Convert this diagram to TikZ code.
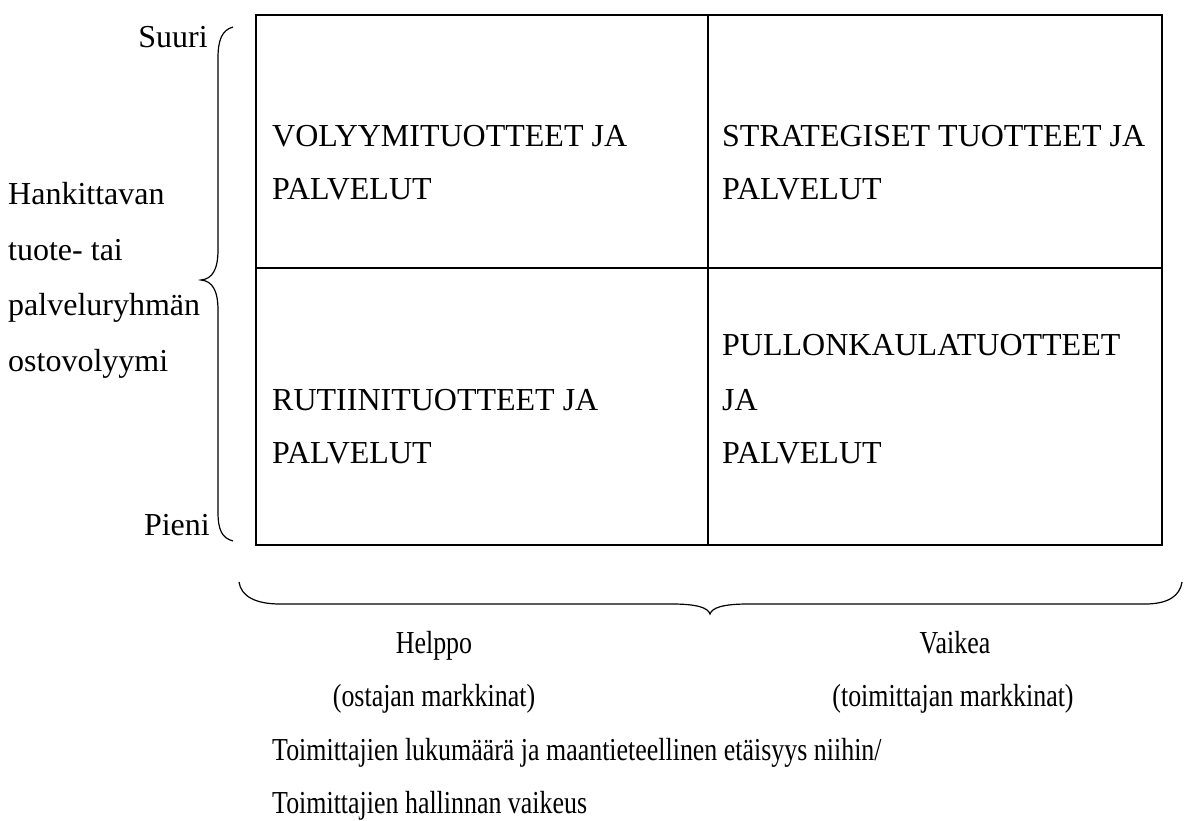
\documentclass[tikz,border=0pt]{standalone}
\usepackage{fontspec}
\setmainfont{Liberation Serif}
\newfontfamily\condfont[FakeStretch=0.81]{Liberation Serif}
\begin{document}
\begin{tikzpicture}[x=1pt,y=-1pt,
  lbl/.style={inner sep=0pt,font=\fontsize{32}{38}\selectfont},
  blbl/.style={inner sep=0pt,font=\condfont\fontsize{32}{38}\selectfont},
  line/.style={line width=1.6pt},
  brace/.style={line width=1.2pt}]
\useasboundingbox (0,0) rectangle (1184,821);
% grid
\draw[line] (256,15) rectangle (1162,545);
\coordinate (mt) at (708,15); \coordinate (mb) at (708,545);
\coordinate (ml) at (256,268); \coordinate (mr) at (1162,268);
\draw[line] (mt) -- (mb);
\draw[line] (ml) -- (mr);
% left brace
\draw[brace] (233,27) .. controls (222,30) and (218,40) .. (218,58)
  -- (218,250) .. controls (218,270) and (212,279) .. (201,280)
  .. controls (212,281) and (218,290) .. (218,310)
  -- (218,512) .. controls (218,530) and (222,538) .. (233,541);
% bottom brace
\draw[brace] (239,582) .. controls (241,596) and (255,604) .. (280,604)
  -- (672,604) .. controls (698,604) and (708,608) .. (710,614)
  .. controls (712,608) and (722,604) .. (748,604)
  -- (1145,604) .. controls (1168,604) and (1180,596) .. (1182,582);
% left labels
\node[lbl,anchor=base east] (suuri) at (208,48) {Suuri};
\node[lbl,anchor=base east] (pieni) at (210,535) {Pieni};
\node[lbl,anchor=base west] (h1) at (8,205) {Hankittavan};
\node[lbl,anchor=base west] (h2) at (8,261) {tuote- tai};
\node[lbl,anchor=base west] (h3) at (8,316) {palveluryhmän};
\node[lbl,anchor=base west] (h4) at (8,371) {ostovolyymi};
% cells
\node[lbl,anchor=base west] (v1) at (272,147) {VOLYYMITUOTTEET JA};
\node[lbl,anchor=base west] (v2) at (272,200) {PALVELUT};
\node[lbl,anchor=base west] (s1) at (722,147) {STRATEGISET TUOTTEET JA};
\node[lbl,anchor=base west] (s2) at (722,200) {PALVELUT};
\node[lbl,anchor=base west] (r1) at (272,410) {RUTIINITUOTTEET JA};
\node[lbl,anchor=base west] (r2) at (272,463) {PALVELUT};
\node[lbl,anchor=base west] (p1) at (722,355) {PULLONKAULATUOTTEET};
\node[lbl,anchor=base west] (p2) at (722,410) {JA};
\node[lbl,anchor=base west] (p3) at (722,463) {PALVELUT};
% bottom labels
\node[blbl,anchor=base] (helppo) at (434,653) {Helppo};
\node[blbl,anchor=base] (vaikea) at (955,653) {Vaikea};
\node[blbl,anchor=base] (om) at (434,706) {(ostajan markkinat)};
\node[blbl,anchor=base] (tm) at (953,706) {(toimittajan markkinat)};
\node[blbl,anchor=base west] (t1) at (272,760) {Toimittajien lukumäärä ja maantieteellinen etäisyys niihin/};
\node[blbl,anchor=base west] (t2) at (272,813) {Toimittajien hallinnan vaikeus};
\end{tikzpicture}
\end{document}
